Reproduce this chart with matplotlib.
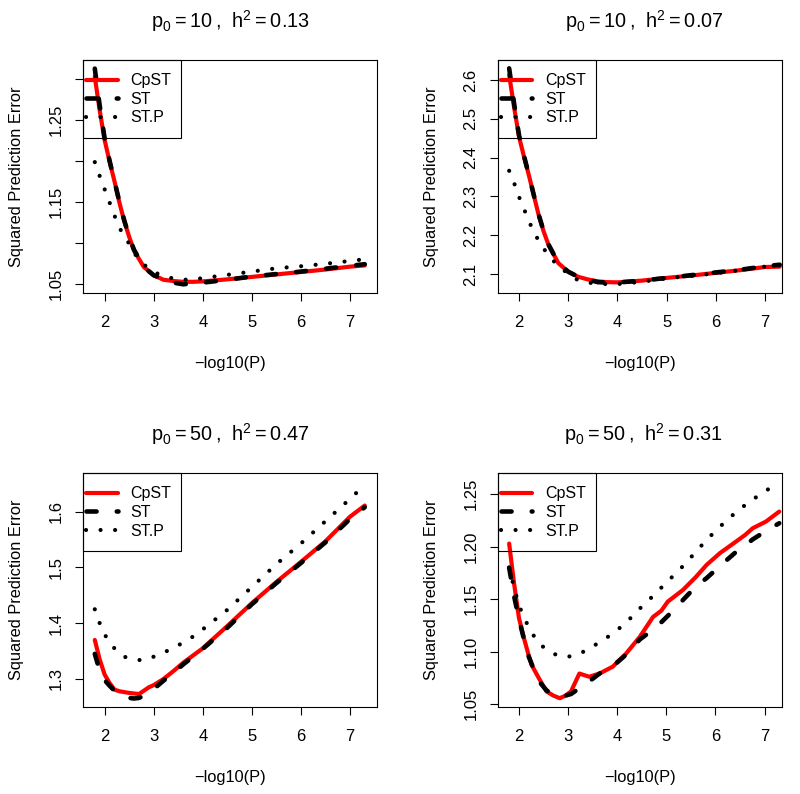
import matplotlib
matplotlib.use('Agg')
import matplotlib.pyplot as plt
from matplotlib.patches import Rectangle

plt.rcParams['font.family'] = ['Liberation Sans', 'DejaVu Sans']
plt.rcParams['mathtext.fontset'] = 'custom'
plt.rcParams['mathtext.rm'] = 'Liberation Sans'

# values
titles = [r'$\mathregular{p_0 = 10\,,\ h^2 = 0.13}$',
          r'$\mathregular{p_0 = 10\,,\ h^2 = 0.07}$',
          r'$\mathregular{p_0 = 50\,,\ h^2 = 0.47}$',
          r'$\mathregular{p_0 = 50\,,\ h^2 = 0.31}$']
labels = ['CpST', 'ST', 'ST.P']

x_top = [1.8, 1.9, 2.0, 2.1, 2.2, 2.3, 2.4, 2.5, 2.6, 2.8, 3.0, 3.2, 3.4, 3.6,
         3.8, 4.0, 4.5, 5.0, 5.5, 6.0, 6.5, 7.0, 7.3]

cpst1 = [1.303, 1.262, 1.226, 1.200, 1.176, 1.150, 1.127, 1.108, 1.091, 1.071,
         1.061, 1.0555, 1.054, 1.053, 1.053, 1.0535, 1.056, 1.059, 1.062, 1.065,
         1.068, 1.0715, 1.073]
st1 = [1.313, 1.268, 1.228, 1.201, 1.176, 1.151, 1.128, 1.108, 1.092, 1.071,
       1.061, 1.056, 1.052, 1.050, 1.051, 1.052, 1.0555, 1.0595, 1.0625, 1.0655,
       1.069, 1.0725, 1.0745]
stp1 = [1.199, 1.182, 1.166, 1.150, 1.134, 1.119, 1.109, 1.0995, 1.088, 1.074,
        1.065, 1.060, 1.057, 1.0555, 1.056, 1.0575, 1.0615, 1.0655, 1.0695, 1.072,
        1.075, 1.0785, 1.0805]

cpst2 = [2.613, 2.530, 2.454, 2.403, 2.355, 2.303, 2.252, 2.210, 2.175, 2.128,
         2.106, 2.093, 2.086, 2.081, 2.079, 2.0785, 2.083, 2.090, 2.096, 2.103,
         2.110, 2.118, 2.119]
st2 = [2.630, 2.540, 2.458, 2.405, 2.356, 2.304, 2.253, 2.211, 2.176, 2.128,
       2.106, 2.093, 2.086, 2.079, 2.078, 2.078, 2.083, 2.090, 2.097, 2.104,
       2.111, 2.120, 2.124]
stp2 = [2.366, 2.335, 2.299, 2.268, 2.237, 2.208, 2.186, 2.166, 2.148, 2.120,
        2.101, 2.084, 2.078, 2.075, 2.074, 2.074, 2.080, 2.089, 2.095, 2.102,
        2.110, 2.119, 2.123]

x3 = [1.8, 1.9, 2.0, 2.1, 2.2, 2.3, 2.4, 2.5, 2.6, 2.7, 2.8, 2.9, 3.0, 3.2, 3.4,
      3.6, 3.8, 4.0, 4.5, 5.0, 5.5, 6.0, 6.5, 7.0, 7.3]
cpst3 = [1.370, 1.335, 1.308, 1.293, 1.281, 1.278, 1.2765, 1.275, 1.274, 1.273,
         1.279, 1.285, 1.289, 1.300, 1.314, 1.329, 1.342, 1.355, 1.395, 1.436,
         1.474, 1.510, 1.547, 1.591, 1.611]
st3 = [1.345, 1.315, 1.298, 1.288, 1.279, 1.273, 1.269, 1.266, 1.265, 1.266,
       1.270, 1.276, 1.282, 1.297, 1.311, 1.326, 1.340, 1.354, 1.392, 1.434,
       1.472, 1.508, 1.545, 1.587, 1.608]
stp3 = [1.425, 1.400, 1.380, 1.366, 1.355, 1.346, 1.340, 1.337, 1.335, 1.334,
        1.334, 1.336, 1.340, 1.347, 1.356, 1.365, 1.376, 1.389, 1.424, 1.465,
        1.506, 1.543, 1.583, 1.623, 1.648]

x4 = [1.8, 1.9, 2.0, 2.1, 2.2, 2.26, 2.4, 2.56, 2.7, 2.83, 2.95, 3.06, 3.23,
      3.43, 3.64, 3.91, 4.18, 4.46, 4.73, 4.9, 5.03, 5.34, 5.6, 5.82, 6.09,
      6.42, 6.6, 6.76, 7.03, 7.3]
cpst4 = [1.203, 1.165, 1.132, 1.113, 1.096, 1.087, 1.075, 1.062, 1.058, 1.0555,
         1.058, 1.062, 1.079, 1.076, 1.079, 1.0856, 1.098, 1.114, 1.133, 1.139,
         1.1476, 1.1588, 1.171, 1.1826, 1.1938, 1.2049, 1.211, 1.2176, 1.224,
         1.2335]
st4 = [1.180, 1.153, 1.131, 1.112, 1.095, 1.088, 1.072, 1.063, 1.059, 1.057,
       1.058, 1.0595, 1.065, 1.0715, 1.079, 1.086, 1.097, 1.1115, 1.121, 1.128,
       1.134, 1.1492, 1.162, 1.170, 1.1815, 1.195, 1.201, 1.207, 1.215, 1.2224]
stp4 = [1.180, 1.161, 1.144, 1.133, 1.123, 1.118, 1.108, 1.102, 1.098, 1.0958,
        1.095, 1.0955, 1.098, 1.1025, 1.109, 1.117, 1.1275, 1.141, 1.153, 1.161,
        1.167, 1.1815, 1.195, 1.2065, 1.219, 1.233, 1.2395, 1.245, 1.2535, 1.261]

xticks = [2, 3, 4, 5, 6, 7]
yticks1 = [1.05, 1.10, 1.15, 1.20, 1.25, 1.30]
ylabels1 = ['1.05', '', '1.15', '', '1.25', '']
yticks2 = [2.1, 2.2, 2.3, 2.4, 2.5, 2.6]
ylabels2 = ['2.1', '2.2', '2.3', '2.4', '2.5', '2.6']
yticks3 = [1.3, 1.4, 1.5, 1.6]
ylabels3 = ['1.3', '1.4', '1.5', '1.6']
yticks4 = [1.05, 1.10, 1.15, 1.20, 1.25]
ylabels4 = ['1.05', '1.10', '1.15', '1.20', '1.25']

W, H = 800, 794
fig = plt.figure(figsize=(W / 100, H / 100), dpi=100)

# panel boxes in pixels: left, top, right, bottom
boxes = [(83.3, 60, 376.7, 293.3), (497.7, 60, 781.7, 293.3),
         (83.3, 473.3, 376.7, 706.7), (497.7, 473.3, 781.7, 706.7)]
xlims = [(1.566, 7.543), (1.567, 7.34), (1.566, 7.543), (1.567, 7.35)]
ylims = [(1.039, 1.3235), (2.0503, 2.6515), (1.2503, 1.6688), (1.0474, 1.270)]
title_x = [0.5, 0.5176, 0.5, 0.513]

panels = [(x_top, cpst1, st1, stp1, yticks1, ylabels1),
          (x_top, cpst2, st2, stp2, yticks2, ylabels2),
          (x3, cpst3, st3, stp3, yticks3, ylabels3),
          (x4, cpst4, st4, stp4, yticks4, ylabels4)]

for i, (x, a, b, c, yt, yl) in enumerate(panels):
    l, t, r, btm = boxes[i]
    aw, ah = r - l, btm - t
    ax = fig.add_axes([l / W, 1 - btm / H, aw / W, ah / H])

    ax.plot(x, a, color='red', lw=3.0, solid_capstyle='round', label=labels[0])
    ax.plot(x, b, color='black', lw=3.3, dashes=(2.2, 4.4),
            dash_capstyle='round', label=labels[1])
    ax.plot(x, c, color='black', lw=3.0, dashes=(0.01, 3.48),
            dash_capstyle='round', label=labels[2])

    ax.set_xlim(*xlims[i])
    ax.set_ylim(*ylims[i])
    ax.set_xticks(xticks)
    ax.set_yticks(yt)
    ax.set_yticklabels(yl)
    ax.tick_params(direction='out', length=5.8, width=0.8, labelsize=12,
                   color='black')
    ax.tick_params(axis='x', pad=10)
    ax.tick_params(axis='y', pad=8, labelrotation=90)
    for lab in ax.get_yticklabels():
        lab.set_va('center')
    for s in ax.spines.values():
        s.set_linewidth(0.8)
        s.set_color('black')

    ax.set_xlabel('\u2212log10(P)', fontsize=11.8)
    ax.xaxis.set_label_coords(0.5, -63.0 / ah)
    ax.set_ylabel('Squared Prediction Error', fontsize=11.8)
    ax.yaxis.set_label_coords(-59.0 / aw, 0.5)

    ax.text(title_x[i], 1 + 32.5 / ah, titles[i], transform=ax.transAxes,
            ha='center', va='baseline', fontsize=14.3)

    # legend: R style box 98 x 78 px at the top left corner
    ax.add_patch(Rectangle((0, 1 - 78.0 / ah), 98.0 / aw, 78.0 / ah,
                           transform=ax.transAxes, fill=False, lw=0.8,
                           edgecolor='black', clip_on=False, zorder=5))
    ax.legend(loc='upper left', bbox_to_anchor=(0, 1 - 10.0 / ah),
              borderaxespad=0, frameon=False, fontsize=11.5,
              handlelength=1.95, handletextpad=0.8, borderpad=0.2,
              labelspacing=0.22)

fig.savefig('out.png', dpi=100)
